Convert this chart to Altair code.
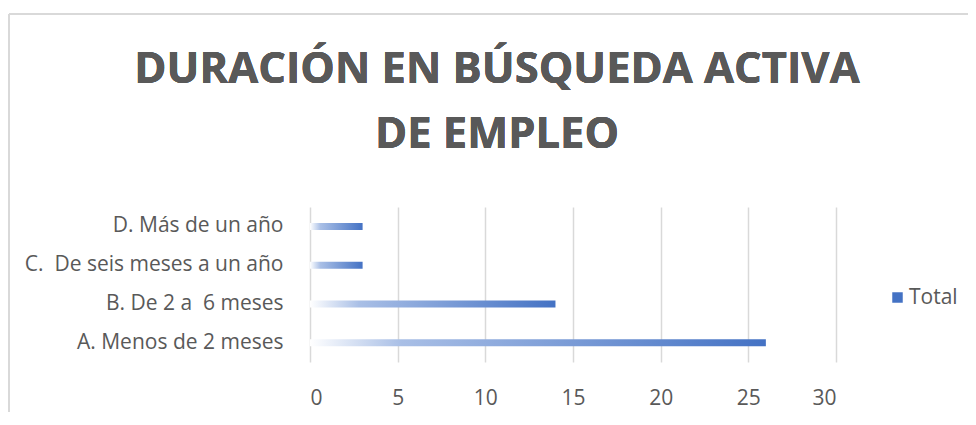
import altair as alt
import pandas as pd

categorias = ["A. Menos de 2 meses", "B. De 2 a\u00a0 6 meses", "C.\u00a0 De seis meses a un año", "D. Más de un año"]
valores = [26, 14, 3, 3]
serie = ["Total", "Total", "Total", "Total"]
orden = ["D. Más de un año", "C.\u00a0 De seis meses a un año", "B. De 2 a\u00a0 6 meses", "A. Menos de 2 meses"]
ticks_x = [0, 5, 10, 15, 20, 25, 30]
titulo = ["DURACIÓN EN BÚSQUEDA ACTIVA", "DE EMPLEO"]

df = pd.DataFrame({"cat": categorias, "valor": valores, "serie": serie})

FONT = "Open Sans"
GRAY = "#595959"
FS = 21

grad = alt.Gradient(
    gradient="linear",
    stops=[
        alt.GradientStop(color="#ffffff", offset=0),
        alt.GradientStop(color="#a9bfe6", offset=0.2),
        alt.GradientStop(color="#4472C4", offset=1),
    ],
    x1=0, x2=1, y1=0, y2=0,
)

x_enc = alt.X(
    "valor:Q",
    scale=alt.Scale(domain=[0, 30], nice=False),
    axis=alt.Axis(values=ticks_x, title=None, grid=True, gridColor="#d9d9d9", gridWidth=1.5,
                  domain=False, ticks=False, labelPadding=25, labelFontSize=FS,
                  labelColor=GRAY, labelFont=FONT),
)
y_enc = alt.Y(
    "cat:N",
    sort=orden,
    axis=alt.Axis(title=None, domain=False, ticks=False, labelPadding=27, labelFontSize=FS,
                  labelColor=GRAY, labelFont=FONT, labelLimit=400),
)

bars = alt.Chart(df).mark_bar(size=7, fill=grad).encode(x=x_enc, y=y_enc)

leyenda = alt.Chart(df).mark_square(opacity=0).encode(
    x="valor:Q",
    y=alt.Y("cat:N", sort=orden),
    color=alt.Color("serie:N", scale=alt.Scale(range=["#4472C4"]),
                    legend=alt.Legend(title=None, orient="none", legendX=577, legendY=80,
                                      symbolType="square", symbolSize=110, labelFontSize=FS,
                                      labelColor=GRAY, labelFont=FONT, labelOffset=1)),
)

borde_top = alt.Chart(df).mark_rule(color="#d9d9d9", strokeWidth=1.5).encode(
    x=alt.value(-301), x2=alt.value(700), y=alt.value(-193))
borde_left = alt.Chart(df).mark_rule(color="#d9d9d9", strokeWidth=1.5).encode(
    x=alt.value(-301), y=alt.value(-193), y2=alt.value(220))

t1 = alt.Chart(df).mark_text(font=FONT, fontSize=43.5, fontWeight="bold", color=GRAY,
                             align="center", baseline="middle").encode(
    x=alt.value(187), y=alt.value(-137), text=alt.value(titulo[0]))
t2 = alt.Chart(df).mark_text(font=FONT, fontSize=43.5, fontWeight="bold", color=GRAY,
                             align="center", baseline="middle").encode(
    x=alt.value(187), y=alt.value(-72), text=alt.value(titulo[1]))

chart = alt.layer(borde_top, borde_left, t1, t2, bars, leyenda).properties(
    width=526, height=155,
    autosize=alt.AutoSizeParams(type="none"),
    padding={"left": 302, "top": 199, "right": 132, "bottom": 50},
).configure_view(stroke=None)

chart.save("out.html", embed_options={"renderer": "svg", "actions": False})
